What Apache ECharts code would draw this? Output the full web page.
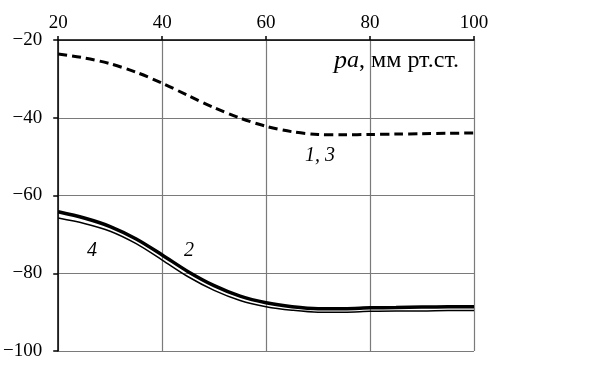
<!DOCTYPE html>
<html>
<head>
<meta charset="utf-8">
<script src="https://cdn.jsdelivr.net/npm/echarts@6/dist/echarts.min.js"></script>
<style>
  html, body { margin: 0; padding: 0; background: #fff; }
  #chart { width: 604px; height: 375px; }
</style>
</head>
<body>
<div id="chart"></div>
<script>
// pressure, mm Hg
var xVals = [20, 25, 30, 35, 40, 45, 50, 55, 60, 65, 70, 75, 80, 85, 90, 95, 100];
// curves 1, 3 (dashed)
var curve13 = [-23.6, -24.6, -26.1, -28.3, -31.1, -34.3, -37.4, -40.1, -42.2, -43.6, -44.3, -44.4, -44.3, -44.2, -44.1, -44.0, -43.9];
// curve 2 (thick)
var curve2 = [-64.2, -65.8, -68.0, -71.2, -75.3, -79.6, -83.2, -85.9, -87.6, -88.6, -89.1, -89.1, -88.9, -88.8, -88.7, -88.6, -88.6];
// curve 4 (thin)
var curve4 = [-65.8, -67.2, -69.2, -72.4, -76.6, -80.9, -84.4, -87.0, -88.6, -89.5, -90.0, -90.0, -89.8, -89.7, -89.7, -89.6, -89.6];

var xTicks = [20, 40, 60, 80, 100];
var yTicks = [-100, -80, -60, -40, -20];

function pairs(ys) {
    return xVals.map(function (x, i) { return [x, ys[i]]; });
}

var font = '"Liberation Serif", "DejaVu Serif", serif';
var myChart = echarts.init(document.getElementById('chart'));

var option = {
    backgroundColor: '#fff',
    animation: false,
    grid: { left: 57, right: 130, top: 40, bottom: 24 },
    xAxis: {
        type: 'value',
        position: 'top',
        min: xTicks[0],
        max: xTicks[xTicks.length - 1],
        interval: 20,
        axisLine: { show: true, lineStyle: { color: '#000', width: 1.5 } },
        axisTick: { show: true, length: 4, lineStyle: { color: '#000', width: 1.5 } },
        axisLabel: { color: '#000', fontFamily: font, fontSize: 19, margin: 7 },
        splitLine: { show: true, lineStyle: { color: '#7a7a7a', width: 1.2 } }
    },
    yAxis: {
        type: 'value',
        min: yTicks[0],
        max: yTicks[yTicks.length - 1],
        interval: 20,
        axisLine: { show: true, lineStyle: { color: '#000', width: 1.5 } },
        axisTick: { show: true, length: 5, lineStyle: { color: '#000', width: 1.5 } },
        axisLabel: {
            color: '#000', fontFamily: font, fontSize: 19, margin: 16,
            formatter: function (v) { return String(v).replace('-', '\u2212'); }
        },
        splitLine: { show: true, lineStyle: { color: '#7a7a7a', width: 1.2 } }
    },
    series: [
        {
            name: '1, 3',
            type: 'line',
            data: pairs(curve13),
            smooth: 0.3,
            symbol: 'none',
            lineStyle: { color: '#000', width: 3, type: [9, 5] }
        },
        {
            name: '2',
            type: 'line',
            data: pairs(curve2),
            smooth: 0.3,
            symbol: 'none',
            lineStyle: { color: '#000', width: 3.5 }
        },
        {
            name: '4',
            type: 'line',
            data: pairs(curve4),
            smooth: 0.3,
            symbol: 'none',
            lineStyle: { color: '#000', width: 1.5 }
        }
    ],
    graphic: [
        {
            type: 'text', left: 334, top: 48,
            style: {
                text: '{i|p}{s|a}{n|, мм рт.ст.}',
                rich: {
                    i: { fontFamily: font, fontStyle: 'italic', fontSize: 26, fill: '#000' },
                    s: { fontFamily: font, fontStyle: 'italic', fontSize: 24, fill: '#000' },
                    n: { fontFamily: font, fontSize: 24, fill: '#000' }
                }
            }
        },
        {
            type: 'text', left: 305, top: 146,
            style: { text: '1, 3', font: 'italic 20px ' + font, fill: '#000' }
        },
        {
            type: 'text', left: 87, top: 241,
            style: { text: '4', font: 'italic 20px ' + font, fill: '#000' }
        },
        {
            type: 'text', left: 184, top: 241,
            style: { text: '2', font: 'italic 20px ' + font, fill: '#000' }
        }
    ]
};

myChart.setOption(option);
</script>
</body>
</html>
